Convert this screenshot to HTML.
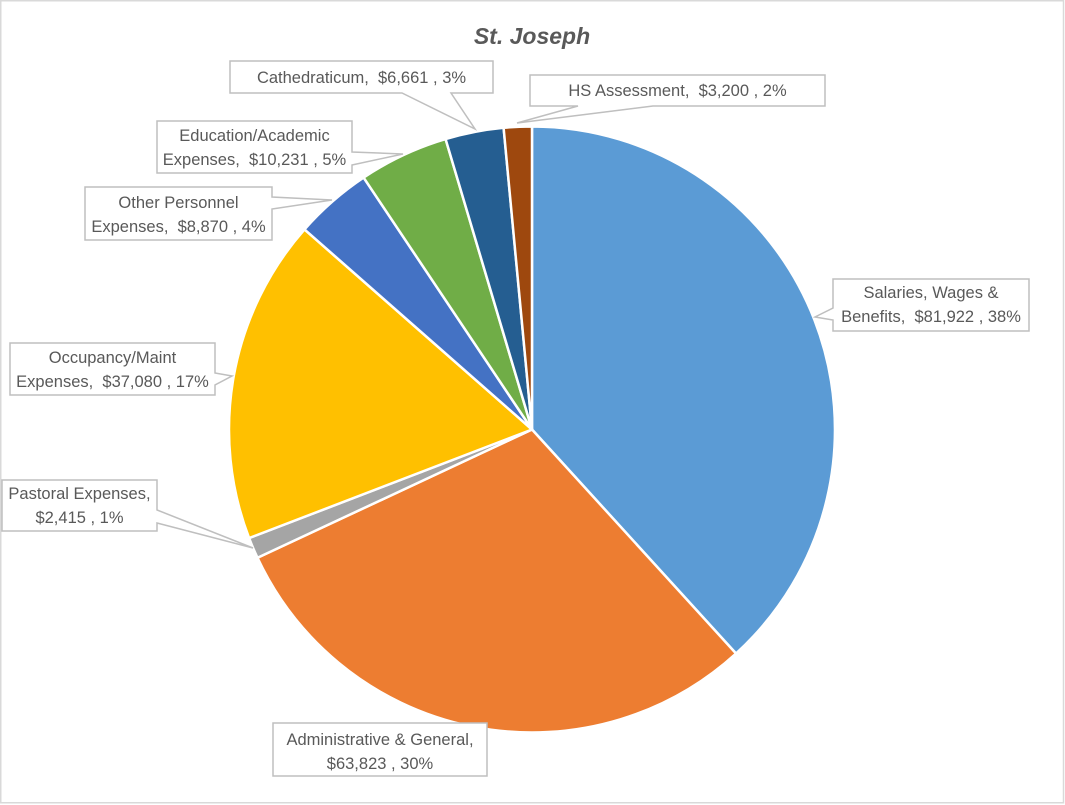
<!DOCTYPE html>
<html>
<head>
<meta charset="utf-8">
<style>
  html, body { margin: 0; padding: 0; background: #ffffff; }
  body { width: 1065px; height: 805px; overflow: hidden; }
  svg { display: block; }
  .lbl { font-family: "Liberation Sans", Arial, sans-serif; font-size: 16.5px; fill: #595959; white-space: pre; }
  .title { font-family: "Liberation Sans", Arial, sans-serif; font-size: 23px; font-weight: bold; font-style: italic; fill: #595959; }
  .co { fill: #ffffff; stroke: #bfbfbf; stroke-width: 1.5; stroke-linejoin: miter; }
  .sl { stroke: #ffffff; stroke-width: 2.5; stroke-linejoin: round; }
</style>
</head>
<body>
<svg width="1065" height="805" viewBox="0 0 1065 805" xmlns="http://www.w3.org/2000/svg" xml:space="preserve">
  <rect x="0" y="0" width="1065" height="805" fill="#ffffff"/>
  <rect x="0.75" y="0.75" width="1062.75" height="802" fill="none" stroke="#d9d9d9" stroke-width="1.5"/>

  <text class="title" x="532" y="44" text-anchor="middle">St. Joseph</text>

  <!-- Pie slices: center (532,429.5), r=303 -->
  <path class="sl" fill="#5B9BD5" d="M532,429.5 L532,126.5 A303,303 0 0 1 736.0,653.5 Z"/>
  <path class="sl" fill="#ED7D31" d="M532,429.5 L736.0,653.5 A303,303 0 0 1 257.5,557.8 Z"/>
  <path class="sl" fill="#A5A5A5" d="M532,429.5 L257.5,557.8 A303,303 0 0 1 249.1,538.1 Z"/>
  <path class="sl" fill="#FFC000" d="M532,429.5 L249.1,538.1 A303,303 0 0 1 304.5,229.4 Z"/>
  <path class="sl" fill="#4472C4" d="M532,429.5 L304.5,229.4 A303,303 0 0 1 363.6,177.6 Z"/>
  <path class="sl" fill="#70AD47" d="M532,429.5 L363.6,177.6 A303,303 0 0 1 445.6,139.1 Z"/>
  <path class="sl" fill="#255E91" d="M532,429.5 L445.6,139.1 A303,303 0 0 1 503.6,127.8 Z"/>
  <path class="sl" fill="#9E480E" d="M532,429.5 L503.6,127.8 A303,303 0 0 1 532,126.5 Z"/>

  <!-- Callouts -->
  <path class="co" d="M230,61 H493 V93 H451 L475,129 L402,93 H230 Z"/>
  <text class="lbl" x="361.5" y="83" text-anchor="middle">Cathedraticum,  $6,661 , 3%</text>

  <path class="co" d="M530,75 H825 V106 H653 L517,123 L578,106 H530 Z"/>
  <text class="lbl" x="677.5" y="96" text-anchor="middle">HS Assessment,  $3,200 , 2%</text>

  <path class="co" d="M157,121 H352 V152 L403,154 L352,165 V173 H157 Z"/>
  <text class="lbl" x="254.5" y="141" text-anchor="middle">Education/Academic</text>
  <text class="lbl" x="254.5" y="165" text-anchor="middle">Expenses,  $10,231 , 5%</text>

  <path class="co" d="M85,187 H272 V197 L332,200 L272,209 V240 H85 Z"/>
  <text class="lbl" x="178.5" y="208" text-anchor="middle">Other Personnel</text>
  <text class="lbl" x="178.5" y="232" text-anchor="middle">Expenses,  $8,870 , 4%</text>

  <path class="co" d="M10,343 H215 V373 L232,376 L215,385 V395 H10 Z"/>
  <text class="lbl" x="112.5" y="363" text-anchor="middle">Occupancy/Maint</text>
  <text class="lbl" x="112.5" y="387" text-anchor="middle">Expenses,  $37,080 , 17%</text>

  <path class="co" d="M2,480 H157 V510 L253,548 L157,523 V531 H2 Z"/>
  <text class="lbl" x="79.5" y="499" text-anchor="middle">Pastoral Expenses,</text>
  <text class="lbl" x="79.5" y="523" text-anchor="middle">$2,415 , 1%</text>

  <path class="co" d="M833,279 H1029 V331 H833 V320 L815,317 L833,308 Z"/>
  <text class="lbl" x="931" y="298" text-anchor="middle">Salaries, Wages &amp;</text>
  <text class="lbl" x="931" y="322" text-anchor="middle">Benefits,  $81,922 , 38%</text>

  <path class="co" d="M273,723 H487 V776 H273 Z"/>
  <text class="lbl" x="380" y="745" text-anchor="middle">Administrative &amp; General,</text>
  <text class="lbl" x="380" y="769" text-anchor="middle">$63,823 , 30%</text>
</svg>
</body>
</html>
